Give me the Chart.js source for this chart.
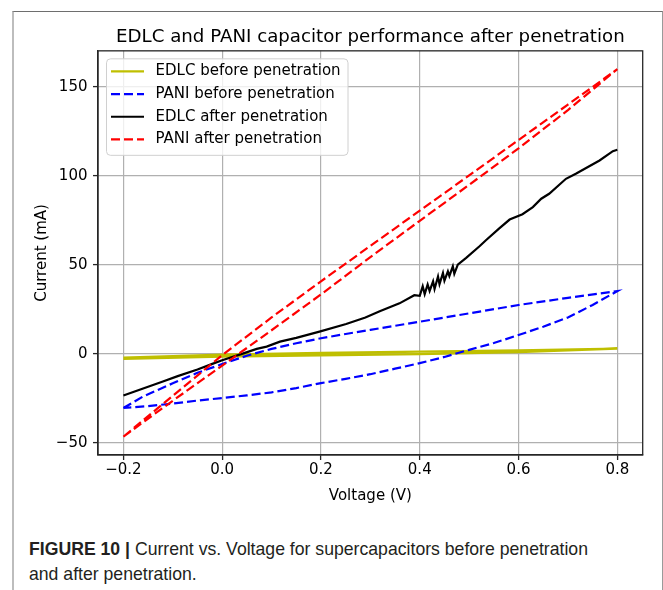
<!DOCTYPE html>
<html>
<head>
<meta charset="utf-8">
<script src="https://cdn.jsdelivr.net/npm/chart.js@4.4.1/dist/chart.umd.min.js"></script>
<style>
  html, body { margin: 0; padding: 0; background: #fff; }
  body { width: 663px; height: 590px; position: relative; overflow: hidden; }
  #frame { position: absolute; left: 12px; top: 11px; width: 648px; height: 600px;
           border-left: 2px solid #bdbdbd; border-top: 1px solid #6e6e6e; border-right: 1px solid #9a9a9a; }
  #wrap { position: absolute; left: 0; top: 0; width: 663px; height: 520px; }
  #caption { position: absolute; left: 29px; top: 536px; font-family: 'Liberation Sans', sans-serif;
             font-size: 19px; line-height: 25px; color: #231f20; transform-origin: 0 0; white-space: nowrap; }
  #caption b { font-weight: bold; }
</style>
</head>
<body>
<div id="frame"></div>
<div id="wrap"><canvas id="c"></canvas></div>
<div id="caption"><span id="l1"><b>FIGURE 10 |</b> Current vs. Voltage for supercapacitors before penetration</span><br>and after penetration.</div>
<script>
// ---- data ----
const seriesLabels = ['EDLC before penetration', 'PANI before penetration', 'EDLC after penetration', 'PANI after penetration'];

// EDLC before penetration: thin loop (forward then back)
const edlcBeforeV = [-0.2, 0.0, 0.2, 0.4, 0.6, 0.8, 0.6, 0.4, 0.2, 0.0, -0.2];
const edlcBeforeI = [-2.7, -1.5, -0.8, -0.1, 1.0, 3.0, 2.0, 1.3, 0.5, -0.4, -2.1];

// PANI before penetration: loop (upper branch -0.2 -> 0.8, lower branch back)
const paniBeforeV = [-0.2, -0.16, -0.1, -0.05, 0.0, 0.05, 0.1, 0.15, 0.2, 0.25, 0.3, 0.4, 0.5, 0.6, 0.7, 0.8,
                     0.75, 0.7, 0.65, 0.6, 0.55, 0.5, 0.45, 0.4, 0.35, 0.3, 0.25, 0.2, 0.15, 0.1, 0.05, 0.0, -0.05, -0.1, -0.15, -0.2];
const paniBeforeI = [-30.4, -23.9, -16.5, -10.6, -5.7, -1.0, 2.8, 6.0, 8.8, 11.2, 13.5, 18.1, 22.8, 27.5, 31.5, 35.3,
                     27.5, 20.5, 15.3, 10.6, 6.1, 2.3, -1.7, -5.2, -8.3, -11.4, -14.0, -16.4, -19.2, -21.6, -23.3, -24.8, -26.2, -27.9, -29.3, -30.4];

// EDLC after penetration
const edlcAfterV = [-0.2, -0.16, -0.12, -0.09, -0.05, -0.02, 0.0, 0.04, 0.07, 0.09, 0.117, 0.15, 0.197, 0.251, 0.29, 0.319, 0.359, 0.389,
                    0.400, 0.406, 0.410, 0.416, 0.420, 0.427, 0.430, 0.437, 0.440, 0.447, 0.450, 0.457, 0.460, 0.467, 0.470, 0.477,
                    0.494, 0.521, 0.534, 0.561, 0.582, 0.608, 0.629, 0.646, 0.662, 0.696, 0.716, 0.764, 0.791, 0.8];
const edlcAfterI = [-23.4, -19.4, -15.5, -12.5, -8.8, -5.6, -3.6, 0.0, 2.8, 4.1, 6.9, 9.0, 12.5, 16.8, 20.5, 24.0, 28.4, 33.0,
                    32.6, 38.0, 33.6, 39.0, 35.4, 40.8, 36.5, 43.5, 39.2, 45.5, 41.2, 46.4, 43.8, 49.2, 45.0, 50.2,
                    54.0, 60.5, 63.9, 70.5, 75.5, 78.5, 82.5, 87.2, 90.0, 98.4, 101.2, 108.7, 113.9, 114.7];

// PANI after penetration: lower branch -0.2 -> 0.8, upper branch back
const paniAfterV = [-0.2, -0.1, 0.0, 0.1, 0.2, 0.3, 0.4, 0.5, 0.6, 0.7, 0.8, 0.7, 0.6, 0.5, 0.4, 0.3, 0.2, 0.1, 0.0, -0.1, -0.2];
const paniAfterI = [-46.5, -26.3, -6.6, 13.3, 33.4, 54.4, 74.8, 95.0, 115.5, 137.0, 160.0, 140.1, 120.2, 100.3, 80.5, 60.7, 40.8, 20.5, -0.7, -23.5, -46.5];

const xTickValues = [-0.2, 0.0, 0.2, 0.4, 0.6, 0.8];
const xTickLabels = ['\u22120.2', '0.0', '0.2', '0.4', '0.6', '0.8'];
const yTickValues = [-50, 0, 50, 100, 150];
const yTickLabels = ['\u221250', '0', '50', '100', '150'];

const FONT = "'DejaVu Sans', sans-serif";
const pts = (xs, ys) => xs.map((x, i) => ({ x: x, y: ys[i] }));

// condense caption to the reference's narrow typeface width
(function () {
  const l1 = document.getElementById('l1');
  const w = l1.getBoundingClientRect().width;
  if (w > 0) document.getElementById('caption').style.transform = 'scaleX(' + (559 / w) + ')';
})();

const legendPlugin = {
  id: 'innerLegend',
  afterDatasetsDraw(chart) {
    const { ctx, chartArea: a } = chart;
    ctx.save();
    ctx.strokeStyle = '#262626';
    ctx.lineWidth = 1.3;
    ctx.strokeRect(a.left, a.top, a.right - a.left, a.bottom - a.top);
    const bx = a.left + 8.5, by = a.top + 8, bw = 241.5, bh = 96.5, r = 4;
    ctx.beginPath();
    ctx.moveTo(bx + r, by);
    ctx.arcTo(bx + bw, by, bx + bw, by + bh, r);
    ctx.arcTo(bx + bw, by + bh, bx, by + bh, r);
    ctx.arcTo(bx, by + bh, bx, by, r);
    ctx.arcTo(bx, by, bx + bw, by, r);
    ctx.closePath();
    ctx.fillStyle = 'rgba(255,255,255,0.8)';
    ctx.fill();
    ctx.strokeStyle = '#d0d0d0';
    ctx.lineWidth = 1;
    ctx.stroke();
    ctx.font = '15px ' + FONT;
    ctx.textBaseline = 'middle';
    ctx.textAlign = 'left';
    chart.data.datasets.forEach((ds, i) => {
      const y = a.top + 20.5 + i * 22.7;
      ctx.beginPath();
      ctx.setLineDash(ds.borderDash || []);
      ctx.strokeStyle = ds.borderColor;
      ctx.lineWidth = ds.borderWidth;
      ctx.moveTo(a.left + 13, y);
      ctx.lineTo(a.left + 46, y);
      ctx.stroke();
      ctx.setLineDash([]);
      ctx.fillStyle = '#000';
      ctx.fillText(ds.label, a.left + 57.5, y);
    });
    ctx.restore();
  }
};

new Chart(document.getElementById('c'), {
  type: 'scatter',
  data: {
    datasets: [
      { label: seriesLabels[0], data: pts(edlcBeforeV, edlcBeforeI), borderColor: '#bfbf00', borderWidth: 2.4, order: 4 },
      { label: seriesLabels[1], data: pts(paniBeforeV, paniBeforeI), borderColor: '#0000ff', borderWidth: 2.2, borderDash: [9, 4], order: 3 },
      { label: seriesLabels[2], data: pts(edlcAfterV, edlcAfterI), borderColor: '#000000', borderWidth: 2.2, order: 2 },
      { label: seriesLabels[3], data: pts(paniAfterV, paniAfterI), borderColor: '#ff0000', borderWidth: 2.2, borderDash: [9, 4], order: 1 }
    ].map(d => Object.assign({ showLine: true, pointRadius: 0, pointHoverRadius: 0, fill: false, tension: 0, backgroundColor: d.borderColor }, d))
  },
  options: {
    responsive: true,
    maintainAspectRatio: false,
    animation: false,
    events: [],
    layout: { padding: { left: 0, right: 20.3, top: 10, bottom: 0 } },
    plugins: {
      legend: { display: false },
      tooltip: { enabled: false },
      title: {
        display: true, fullSize: false,
        text: 'EDLC and PANI capacitor performance after penetration',
        color: '#000', font: { family: FONT, size: 18.2, weight: 'normal' },
        padding: { top: 16, bottom: 3 }
      }
    },
    scales: {
      x: {
        type: 'linear', min: -0.2514, max: 0.8514,
        afterFit(s) { s.height = 65; },
        afterBuildTicks(s) { s.ticks = xTickValues.map(v => ({ value: v })); },
        ticks: { color: '#000', font: { family: FONT, size: 15 }, padding: 1,
                 callback: (v) => { const i = xTickValues.findIndex(t => Math.abs(t - v) < 1e-9); return i >= 0 ? xTickLabels[i] : ''; } },
        grid: { color: '#b0b0b0', lineWidth: 1.2, tickLength: 5, tickColor: '#262626', tickWidth: 1.3 },
        border: { display: true, color: '#262626', width: 1.3 },
        title: { display: true, text: 'Voltage (V)', color: '#000', font: { family: FONT, size: 15 }, padding: { top: 0, bottom: 15 } }
      },
      y: {
        type: 'linear', min: -56.8, max: 170.3,
        afterFit(s) { s.width = 98; },
        afterBuildTicks(s) { s.ticks = yTickValues.map(v => ({ value: v })); },
        ticks: { color: '#000', font: { family: FONT, size: 15 }, padding: 5.5,
                 callback: (v) => { const i = yTickValues.indexOf(v); return i >= 0 ? yTickLabels[i] : ''; } },
        grid: { color: '#b0b0b0', lineWidth: 1.2, tickLength: 5, tickColor: '#262626', tickWidth: 1.3 },
        border: { display: true, color: '#262626', width: 1.3 },
        title: { display: true, text: 'Current (mA)', color: '#000', font: { family: FONT, size: 15 }, padding: { top: 33, bottom: 0 } }
      }
    }
  },
  plugins: [legendPlugin]
});
</script>
</body>
</html>
